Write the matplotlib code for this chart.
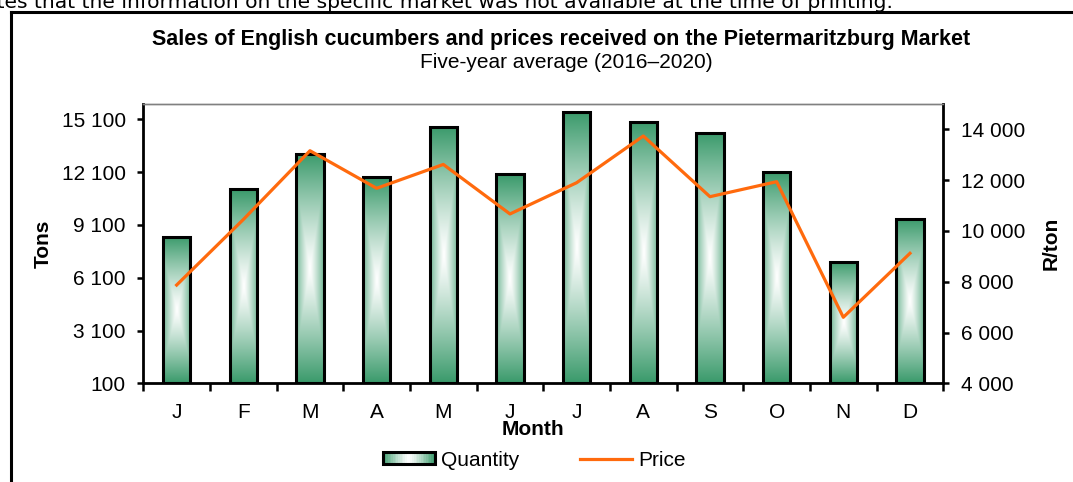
import numpy as np
import matplotlib
matplotlib.use("Agg")
import matplotlib.pyplot as plt
from matplotlib.lines import Line2D
from matplotlib.patches import Rectangle, Patch
from matplotlib.legend_handler import HandlerBase
from matplotlib.ticker import FuncFormatter, FixedLocator

plt.rcParams['font.family'] = ['Liberation Sans', 'DejaVu Sans']

months = ['J', 'F', 'M', 'A', 'M', 'J', 'J', 'A', 'S', 'O', 'N', 'D']
quantity = [8400, 11120, 13130, 11800, 14680, 11975, 15530, 14960, 14320, 12120, 7010, 9420]
price = [7870, 10450, 13160, 11680, 12620, 10670, 11900, 13740, 11350, 11940, 6600, 9120]
left_ticks = [100, 3100, 6100, 9100, 12100, 15100]
right_ticks = [4000, 6000, 8000, 10000, 12000, 14000]

title = "Sales of English cucumbers and prices received on the Pietermaritzburg Market"
subtitle = "Five-year average (2016\u20132020)"
top_note = "indicates that the information on the specific market was not available at the time of printing."

GREEN = np.array([0x3A, 0x9A, 0x6B]) / 255.0
ORANGE = '#FF6A0D'
FS = 15

W, H = 1073, 482
fig = plt.figure(figsize=(W / 100, H / 100), dpi=100)

ax = fig.add_axes([143.3 / W, 1 - 383.3 / H, 800 / W, 279.3 / H])
ax2 = ax.twinx()

def fmt(v, pos=None):
    return f"{int(round(v)):,}".replace(',', ' ')

# gradient image for bars
ny, nx = 200, 60
yy, xx = np.mgrid[-1:1:ny * 1j, -1:1:nx * 1j]
t = np.maximum(np.abs(yy), 0.75 * np.abs(xx))
t = np.clip(t, 0, 1) ** 1.2
grad = (1 - t)[..., None] * np.array([1, 1, 1]) + t[..., None] * GREEN

x = np.arange(len(months))
bw = 0.41
bars = ax.bar(x, np.array(quantity) - 100, bottom=100, width=bw,
              facecolor='none', edgecolor='black', linewidth=2.2, zorder=3)
for b in bars:
    x0, y0 = b.get_x(), b.get_y()
    im = ax.imshow(grad, extent=[x0, x0 + b.get_width(), y0, y0 + b.get_height()],
                   aspect='auto', origin='lower', zorder=2, interpolation='bilinear')
    im.set_clip_path(b)

ax.set_xlim(-0.5, len(months) - 0.5)
ax.set_ylim(100, 15970)
ax.set_yticks(left_ticks)
ax.yaxis.set_major_formatter(FuncFormatter(fmt))
ax.set_xticks(x)
ax.set_xticklabels(months)
ax.xaxis.set_minor_locator(FixedLocator(np.arange(-0.5, len(months), 1.0)))
ax.tick_params(axis='x', which='major', length=0, pad=14, labelsize=FS)
ax.tick_params(axis='x', which='minor', length=5.5, width=1.8, direction='out')
ax.tick_params(axis='y', which='major', length=4.5, width=1.8, direction='out', pad=8, labelsize=FS)

ax2.plot(x, price, color=ORANGE, linewidth=2.3, zorder=5)
ax2.set_ylim(4000, 15000)
ax2.set_yticks(right_ticks)
ax2.yaxis.set_major_formatter(FuncFormatter(fmt))
ax2.tick_params(axis='y', which='major', length=4.5, width=1.8, direction='out', pad=8, labelsize=FS)

for a in (ax, ax2):
    for s in ('left', 'bottom', 'right'):
        a.spines[s].set_linewidth(2.0)
        a.spines[s].set_color('black')
    a.spines['top'].set_color('#808080')
    a.spines['top'].set_linewidth(1.0)
ax.spines['right'].set_visible(False)
ax2.spines['left'].set_visible(False)
ax2.spines['bottom'].set_visible(False)

ax.set_ylabel('Tons', fontsize=FS, fontweight='bold')
ax.yaxis.set_label_coords(-(143.3 - 53) / 800, 0.5)
ax2.set_ylabel('R/ton', fontsize=FS, fontweight='bold', rotation=90)
ax2.yaxis.set_label_coords((1042 - 143.3) / 800, 0.5)
ax.set_xlabel('Month', fontsize=FS, fontweight='bold')
ax.xaxis.set_label_coords((533 - 143.3) / 800, -(420 - 383.3) / 279.3)

fig.text(561 / W, 1 - 40 / H, title, ha='center', va='center', fontsize=15.5, fontweight='bold')
fig.text(566 / W, 1 - 62 / H, subtitle, ha='center', va='center', fontsize=15)
fig.text(893 / W, 1 - 8 / H, top_note, ha='right', va='baseline', fontsize=14.6,
         family=['DejaVu Sans'])

# frame around chart
fig.add_artist(Line2D([11 / W, 11 / W], [0, 1 - 12 / H], color='black', lw=2.2,
                      transform=fig.transFigure))
fig.add_artist(Line2D([11 / W, 1.0], [1 - 12 / H, 1 - 12 / H], color='black', lw=2.2,
                      transform=fig.transFigure))


class GradHandler(HandlerBase):
    def create_artists(self, legend, orig_handle, xdescent, ydescent, width, height, fontsize, trans):
        arts = []
        n = 30
        for i in range(n):
            u = (i + 0.5) / n
            tt = min(abs(2 * u - 1), 1) ** 1.2
            c = (1 - tt) * np.array([1, 1, 1]) + tt * GREEN
            r = Rectangle((xdescent + width * i / n, -ydescent), width / n + 0.3, height,
                          facecolor=c, edgecolor='none', transform=trans)
            arts.append(r)
        edge = Rectangle((xdescent, -ydescent), width, height, facecolor='none',
                         edgecolor='black', lw=2.2, transform=trans)
        arts.append(edge)
        return arts


qh = Patch(facecolor=GREEN, edgecolor='black')
ph = Line2D([], [], color=ORANGE, lw=2.3)
fig.legend([qh, ph], ['Quantity', 'Price'], handler_map={Patch: GradHandler()},
           loc='center', bbox_to_anchor=(534 / W, 1 - 460 / H), ncol=2, frameon=False,
           fontsize=FS, handlelength=2.5, handleheight=0.55, handletextpad=0.3,
           columnspacing=2.9)

fig.savefig('out.png', dpi=100)
